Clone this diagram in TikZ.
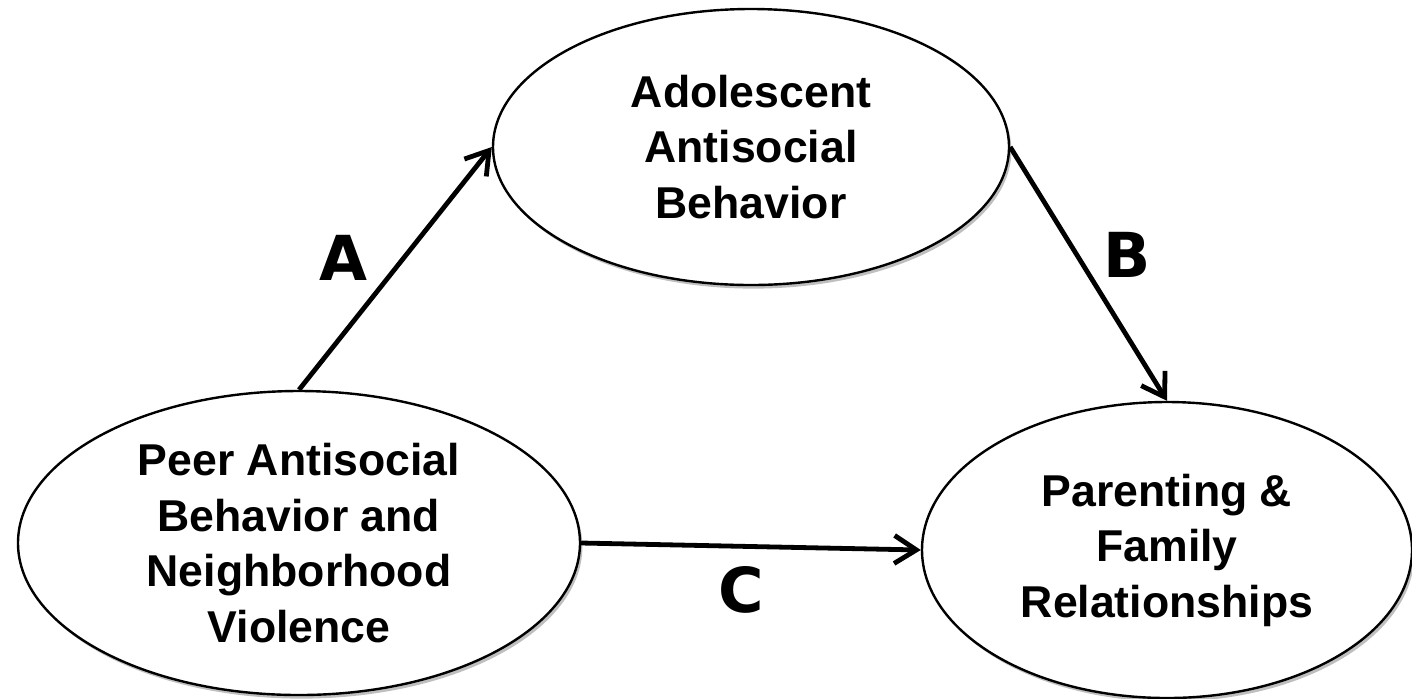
\documentclass[tikz,border=0pt]{standalone}
\usepackage{fontspec}
\setmainfont{Liberation Sans}
\newfontfamily\labelfont{DejaVu Sans}
\usetikzlibrary{shapes.geometric,arrows.meta,shadows}
\begin{document}
\begin{tikzpicture}[x=0.5pt,y=-0.5pt,
  construct/.style={ellipse, draw=black, line width=1.2pt, fill=white, inner sep=0pt,
     align=center, font=\fontsize{22.3}{27.75}\selectfont\bfseries,
     drop shadow={shadow xshift=1.2pt, shadow yshift=-1.8pt, opacity=0.25, fill=black}},
  arr/.style={line width=2.4pt, -{Straight Barb[length=11pt,width=14pt,line width=2.4pt]}},
  pathlabel/.style={inner sep=0pt, font=\labelfont\fontsize{31}{31}\selectfont\bfseries}
]
\useasboundingbox (0,0) rectangle (1412,698);
\node[construct, minimum width=258pt, minimum height=138pt] (top) at (751,147)
  {Adolescent\\Antisocial\\Behavior};
\node[construct, minimum width=281pt, minimum height=152pt] (left) at (299,543)
  {Peer Antisocial\\Behavior and\\Neighborhood\\Violence};
\node[construct, minimum width=245pt, minimum height=148pt] (right) at (1167,550)
  {Parenting \&\\Family\\Relationships};
\draw[arr] (left.north) -- (top.west);
\draw[arr] (top.east) -- (right.north);
\draw[arr] (left.east) -- (right.west);
\node[pathlabel] (la) at (343,258) {A};
\node[pathlabel] (lb) at (1127,255) {B};
\node[pathlabel] (lc) at (741,590) {C};
\end{tikzpicture}
\end{document}
